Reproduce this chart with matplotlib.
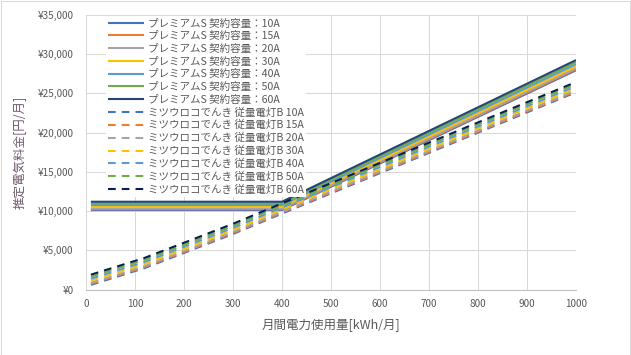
import matplotlib
matplotlib.use("Agg")
import matplotlib.pyplot as plt
from matplotlib.ticker import FuncFormatter, MultipleLocator
from matplotlib.patches import Rectangle

plt.rcParams['font.family'] = ['Noto Sans CJK JP', 'DejaVu Sans']

# usage points (kWh/month)
usage = [10, 100, 120, 200, 300, 400, 500, 600, 700, 800, 900, 1000]

# プレミアムS (solid)
premium_labels = ["プレミアムS 契約容量：10A", "プレミアムS 契約容量：15A", "プレミアムS 契約容量：20A",
                  "プレミアムS 契約容量：30A", "プレミアムS 契約容量：40A", "プレミアムS 契約容量：50A",
                  "プレミアムS 契約容量：60A"]
premium_10A = [10130, 10130, 10130, 10130, 10130, 10130, 13100, 16070, 19040, 22010, 24980, 27950]
premium_15A = [10240, 10240, 10240, 10240, 10240, 10240, 13210, 16190, 19160, 22130, 25110, 28080]
premium_20A = [10340, 10340, 10340, 10340, 10340, 10340, 13320, 16300, 19280, 22250, 25230, 28210]
premium_30A = [10550, 10550, 10550, 10550, 10550, 10550, 13540, 16520, 19510, 22500, 25480, 28470]
premium_40A = [10770, 10770, 10770, 10770, 10770, 10770, 13760, 16760, 19750, 22740, 25740, 28730]
premium_50A = [10980, 10980, 10980, 10980, 10980, 10980, 13980, 16980, 19990, 22990, 25990, 28990]
premium_60A = [11190, 11190, 11190, 11190, 11190, 11190, 14200, 17210, 20220, 23230, 26240, 29250]

# ミツウロコでんき 従量電灯B (dashed)
mitsu_labels = ["ミツウロコでんき 従量電灯B 10A", "ミツウロコでんき 従量電灯B 15A", "ミツウロコでんき 従量電灯B 20A",
                "ミツウロコでんき 従量電灯B 30A", "ミツウロコでんき 従量電灯B 40A", "ミツウロコでんき 従量電灯B 50A",
                "ミツウロコでんき 従量電灯B 60A"]
mitsu_10A = [590, 2350, 2740, 4660, 7080, 9680, 12260, 14840, 17420, 20000, 22580, 25150]
mitsu_15A = [720, 2480, 2870, 4790, 7210, 9810, 12390, 14970, 17550, 20130, 22710, 25280]
mitsu_20A = [850, 2610, 3000, 4920, 7340, 9940, 12520, 15100, 17680, 20260, 22840, 25410]
mitsu_30A = [1110, 2870, 3260, 5180, 7600, 10200, 12780, 15360, 17940, 20520, 23100, 25670]
mitsu_40A = [1370, 3130, 3520, 5440, 7860, 10460, 13040, 15620, 18200, 20780, 23360, 25930]
mitsu_50A = [1630, 3390, 3780, 5700, 8120, 10720, 13300, 15880, 18460, 21040, 23620, 26190]
mitsu_60A = [1890, 3650, 4040, 5960, 8380, 10980, 13560, 16140, 18720, 21300, 23880, 26450]

solid_colors = ["#4472C4", "#ED7D31", "#A5A5A5", "#FFC000", "#5B9BD5", "#70AD47", "#264478"]
dash_colors = ["#4472C4", "#ED7D31", "#A5A5A5", "#FFC000", "#5B9BD5", "#70AD47", "#0A1F50"]

premium_series = [premium_10A, premium_15A, premium_20A, premium_30A, premium_40A, premium_50A, premium_60A]
mitsu_series = [mitsu_10A, mitsu_15A, mitsu_20A, mitsu_30A, mitsu_40A, mitsu_50A, mitsu_60A]

W, H = 631, 355
fig = plt.figure(figsize=(W / 100, H / 100), dpi=100)
fig.patches.append(Rectangle((0.5 / W, 0.5 / H), 1 - 1.5 / W, 1 - 1.5 / H, transform=fig.transFigure,
                             fill=False, edgecolor="#D9D9D9", linewidth=0.75))
ax = fig.add_axes([86 / W, 1 - 289.5 / H, 490 / W, 274.5 / H])

lw = 1.5
for vals, c, lab in zip(premium_series, solid_colors, premium_labels):
    ax.plot(usage, vals, color=c, lw=lw, label=lab, solid_capstyle='butt')
for vals, c, lab in zip(mitsu_series, dash_colors, mitsu_labels):
    ax.plot(usage, vals, color=c, lw=lw, label=lab, dashes=(3.7, 2.9), dash_capstyle='butt')

ax.set_xlim(0, 1000)
ax.set_ylim(0, 35000)
ax.xaxis.set_major_locator(MultipleLocator(100))
ax.yaxis.set_major_locator(MultipleLocator(5000))
ax.yaxis.set_major_formatter(FuncFormatter(lambda v, p: "¥{:,.0f}".format(v)))
ax.grid(True, color="#D9D9D9", lw=0.75)
ax.set_axisbelow(True)
for s in ["top", "right", "left"]:
    ax.spines[s].set_visible(False)
ax.spines["bottom"].set_color("#BFBFBF")
ax.spines["bottom"].set_linewidth(0.75)
ax.tick_params(axis="both", length=0, labelsize=7.2, labelcolor="#595959")
ax.tick_params(axis="y", pad=9)
ax.tick_params(axis="x", pad=7)

ax.set_xlabel("月間電力使用量[kWh/月]", fontsize=9, color="#595959", labelpad=7)
ax.set_ylabel("推定電気料金[円/月]", fontsize=9, color="#6E5A6C", labelpad=8)

leg = ax.legend(loc="upper left", bbox_to_anchor=(0.04, 0.995), fontsize=7.6, frameon=True,
                framealpha=1, facecolor="white", edgecolor="none", fancybox=False,
                handlelength=3.4, handletextpad=0.4, labelspacing=0.25, borderpad=0.2,
                borderaxespad=0)
for t in leg.get_texts():
    t.set_color("#595959")

fig.savefig("out.png", dpi=100)
